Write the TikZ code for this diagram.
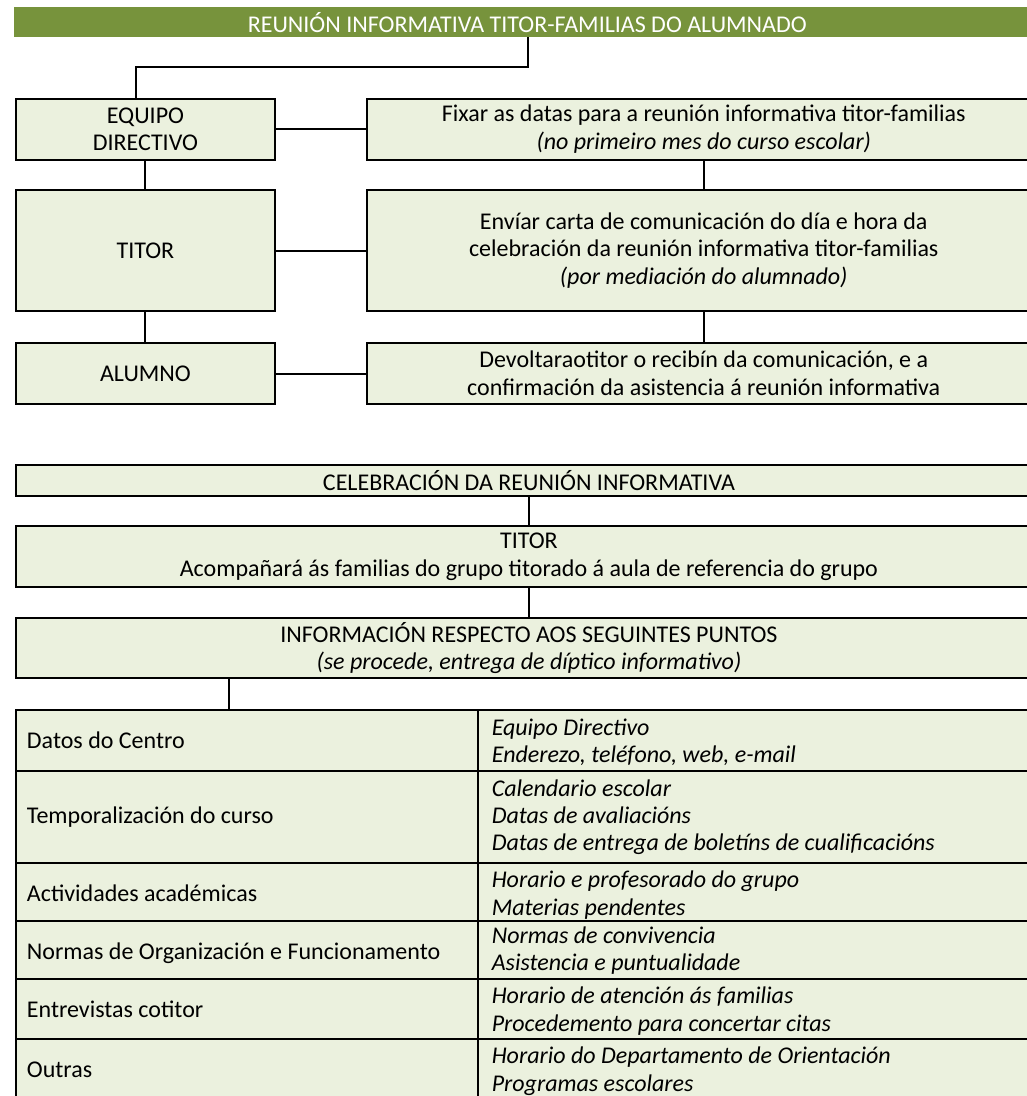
\documentclass[tikz,border=0pt]{standalone}
\usepackage{fontspec}
\setmainfont{Carlito}
\newdimen\px \px=0.75pt
\definecolor{hdrgreen}{HTML}{77933C}
\definecolor{boxfill}{HTML}{EBF1DE}
\begin{document}
\begin{tikzpicture}[x=0.75pt,y=-0.75pt,
  txt/.style={font=\fontsize{18}{20.8}\selectfont},
  box/.style={txt, draw=black, line width=1.6pt, fill=boxfill, inner sep=0pt, align=center, anchor=north west},
  hdrbox/.style={txt, fill=hdrgreen, text=white, inner sep=0pt, align=center, anchor=north west},
  cell/.style={draw=black, line width=1.6pt, fill=boxfill, anchor=north west, inner sep=0pt},
  ltext/.style={anchor=base west, inner sep=0pt, font=\fontsize{18}{20.5}\selectfont},
  rtext/.style={anchor=base west, inner sep=0pt, text width=530\px, align=flush left, font=\fontsize{18}{20.5}\selectfont\itshape},
  conn/.style={line width=1.6pt, draw=black}]
\useasboundingbox (0,0) rectangle (1027,1096);
% header
\node[hdrbox, minimum width=1026\px, minimum height=29.7\px] (hdr) at (14,7) {REUNIÓN INFORMATIVA TITOR-FAMILIAS DO ALUMNADO};
% left column
\node[box, minimum width=259.3\px, minimum height=61.3\px] (eq) at (14.7,97.7) {EQUIPO\\DIRECTIVO};
\node[box, minimum width=259.3\px, minimum height=121\px] (tit) at (14.7,189) {TITOR};
\node[box, minimum width=259.3\px, minimum height=60.4\px] (alu) at (14.7,342.3) {ALUMNO};
% right column
\node[box, minimum width=674\px, minimum height=61.3\px] (fix) at (365.7,97.7) {Fixar as datas para a reunión informativa titor-familias\\\textit{(no primeiro mes do curso escolar)}};
\node[box, minimum width=674\px, minimum height=121\px] (env) at (365.7,189) {Envíar carta de comunicación do día e hora da\\celebración da reunión informativa titor-familias\\\textit{(por mediación do alumnado)}};
\node[box, minimum width=674\px, minimum height=60.4\px] (dev) at (365.7,342.3) {Devoltaraotitor o recibín da comunicación, e a\\confirmación da asistencia á reunión informativa};
% connectors top
\coordinate (k1) at (528,66.7);
\coordinate (k2) at (136,66.7);
\draw[conn] (hdr.south -| k1) -- (k1) -- (k2) -- (eq.north -| k2);
\draw[conn] (eq.east) -- (fix.west);
\draw[conn] (tit.east) -- (env.west);
\draw[conn] (alu.east) -- (dev.west);
\draw[conn] (eq.south) -- (tit.north);
\draw[conn] (tit.south) -- (alu.north);
\draw[conn] (fix.south) -- (env.north);
\draw[conn] (env.south) -- (dev.north);
% bottom section
\node[box, minimum width=1026.3\px, minimum height=31\px] (cel) at (14.7,464) {CELEBRACIÓN DA REUNIÓN INFORMATIVA};
\node[box, minimum width=1026.3\px, minimum height=61\px] (tit2) at (14.7,525) {TITOR\\Acompañará ás familias do grupo titorado á aula de referencia do grupo};
\node[box, minimum width=1026.3\px, minimum height=60.6\px] (info) at (14.7,616.7) {INFORMACIÓN RESPECTO AOS SEGUINTES PUNTOS\\\textit{(se procede, entrega de díptico informativo)}};
\draw[conn] (cel.south) -- (tit2.north);
\draw[conn] (tit2.south) -- (info.north);
% table cells
\node[cell, minimum width=462.3\px, minimum height=61\px] (l1) at (14.7,709) {};
\node[cell, minimum width=564\px, minimum height=61\px] (r1) at (477,709) {};
\node[cell, minimum width=462.3\px, minimum height=91.7\px] (l2) at (14.7,770) {};
\node[cell, minimum width=564\px, minimum height=91.7\px] (r2) at (477,770) {};
\node[cell, minimum width=462.3\px, minimum height=58.3\px] (l3) at (14.7,861.7) {};
\node[cell, minimum width=564\px, minimum height=58.3\px] (r3) at (477,861.7) {};
\node[cell, minimum width=462.3\px, minimum height=57.7\px] (l4) at (14.7,920) {};
\node[cell, minimum width=564\px, minimum height=57.7\px] (r4) at (477,920) {};
\node[cell, minimum width=462.3\px, minimum height=60\px] (l5) at (14.7,977.7) {};
\node[cell, minimum width=564\px, minimum height=60\px] (r5) at (477,977.7) {};
\node[cell, minimum width=462.3\px, minimum height=61\px] (l6) at (14.7,1037.7) {};
\node[cell, minimum width=564\px, minimum height=61\px] (r6) at (477,1037.7) {};
% table texts
\node[ltext] (lt1) at ([shift={(12,39.6)}]l1.north west) {Datos do Centro};
\node[ltext] (lt2) at ([shift={(12,53)}]l2.north west) {Temporalización do curso};
\node[ltext] (lt3) at ([shift={(12,39.6)}]l3.north west) {Actividades académicas};
\node[ltext] (lt4) at ([shift={(12,39.6)}]l4.north west) {Normas de Organización e Funcionamento};
\node[ltext] (lt5) at ([shift={(12,39.6)}]l5.north west) {Entrevistas cotitor};
\node[ltext] (lt6) at ([shift={(12,39.6)}]l6.north west) {Outras};
\node[rtext] (rt1) at ([shift={(14.5,26)}]r1.north west) {Equipo Directivo\\Enderezo, teléfono, web, e-mail};
\node[rtext] (rt2) at ([shift={(14.5,26)}]r2.north west) {Calendario escolar\\Datas de avaliacións\\Datas de entrega de boletíns de cualificacións};
\node[rtext] (rt3) at ([shift={(14.5,26)}]r3.north west) {Horario e profesorado do grupo\\Materias pendentes};
\node[rtext] (rt4) at ([shift={(14.5,23.5)}]r4.north west) {Normas de convivencia\\Asistencia e puntualidade};
\node[rtext] (rt5) at ([shift={(14.5,26)}]r5.north west) {Horario de atención ás familias\\Procedemento para concertar citas};
\node[rtext] (rt6) at ([shift={(14.5,26)}]r6.north west) {Horario do Departamento de Orientación\\Programas escolares};
\coordinate (j) at (229,690);
\draw[conn] (info.south -| j) -- (l1.north -| j);
\end{tikzpicture}
\end{document}
